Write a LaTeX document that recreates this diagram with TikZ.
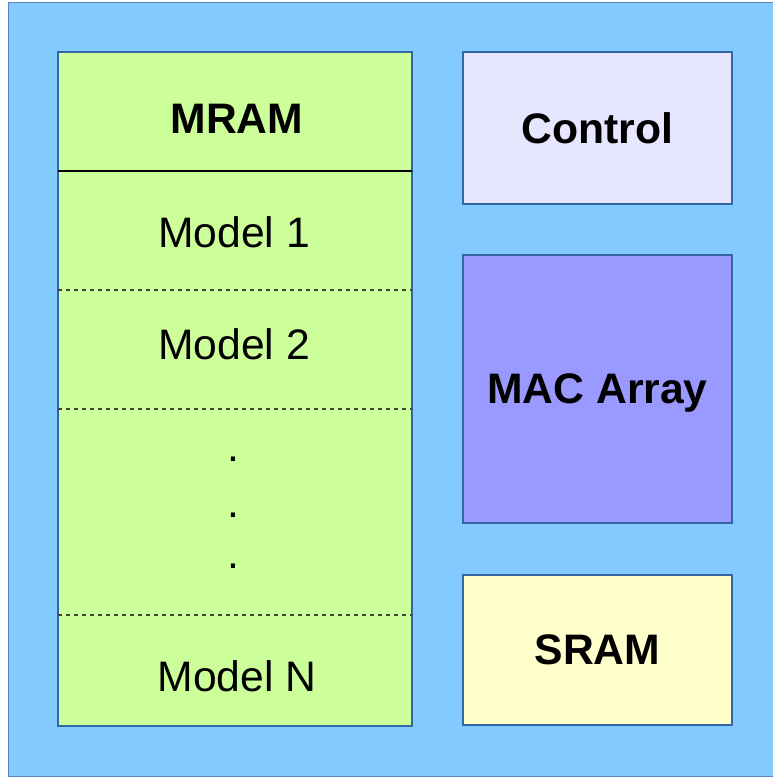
\documentclass[tikz,border=0pt]{standalone}
\usepackage{fontspec}
\setmainfont{Liberation Sans}
\usetikzlibrary{positioning}
\definecolor{chipblue}{HTML}{83CAFF}
\definecolor{edgeblue}{HTML}{3465A4}
\definecolor{mramgreen}{HTML}{CCFF99}
\definecolor{ctrllilac}{HTML}{E6E6FF}
\definecolor{macviolet}{HTML}{9999FF}
\definecolor{sramyellow}{HTML}{FFFFCC}

\begin{document}
\begin{tikzpicture}[x=0.75pt,y=-0.75pt,
    blk/.style={draw=edgeblue,line width=0.9pt,minimum width=269*0.75pt,inner sep=0pt,text depth=0pt,font=\fontsize{32}{38}\selectfont\bfseries},
    lbl/.style={inner sep=0pt,font=\fontsize{32}{38}\selectfont},
    sep/.style={black!75,line width=0.8pt,dash pattern=on 3pt off 3pt}]
    \useasboundingbox (0,0) rectangle (773,777);
    % chip outline
    \fill[chipblue,draw=edgeblue!80] (8,2) rectangle (776,776);
    % memory column
    \node[draw=edgeblue,line width=0.9pt,fill=mramgreen,minimum width=354*0.75pt,minimum height=674*0.75pt,inner sep=0pt] (mram) at (235,389) {};
    \coordinate (h1) at (58,171); \coordinate (h2) at (412,171);
    \coordinate (d1) at (58,290); \coordinate (d2) at (412,290);
    \coordinate (e1) at (58,409); \coordinate (e2) at (412,409);
    \coordinate (f1) at (58,615); \coordinate (f2) at (412,615);
    \draw[black,line width=0.8pt] (h1)--(h2);
    \draw[sep] (d1)--(d2); \draw[sep] (e1)--(e2); \draw[sep] (f1)--(f2);
    \node[lbl,font=\fontsize{32}{38}\selectfont\bfseries] (tmram) at (237,119) {MRAM};
    \node[lbl] (m1) at (234,232) {Model 1};
    \node[lbl] (m2) at (234,344) {Model 2};
    \node[lbl] (dot1) at (233,459) {.};
    \node[lbl] (dot2) at (233,515) {.};
    \node[lbl] (dot3) at (233,566) {.};
    \node[lbl] (mN) at (237,676) {Model N};
    % compute side
    \node[blk,fill=ctrllilac,minimum height=152*0.75pt] (ctrl) at (597.5,128) {Control};
    \node[blk,fill=macviolet,minimum height=268*0.75pt] (mac) at (597.5,389) {MAC Array};
    \node[blk,fill=sramyellow,minimum height=150*0.75pt] (sram) at (597.5,650) {SRAM};
  \end{tikzpicture}
\end{document}
